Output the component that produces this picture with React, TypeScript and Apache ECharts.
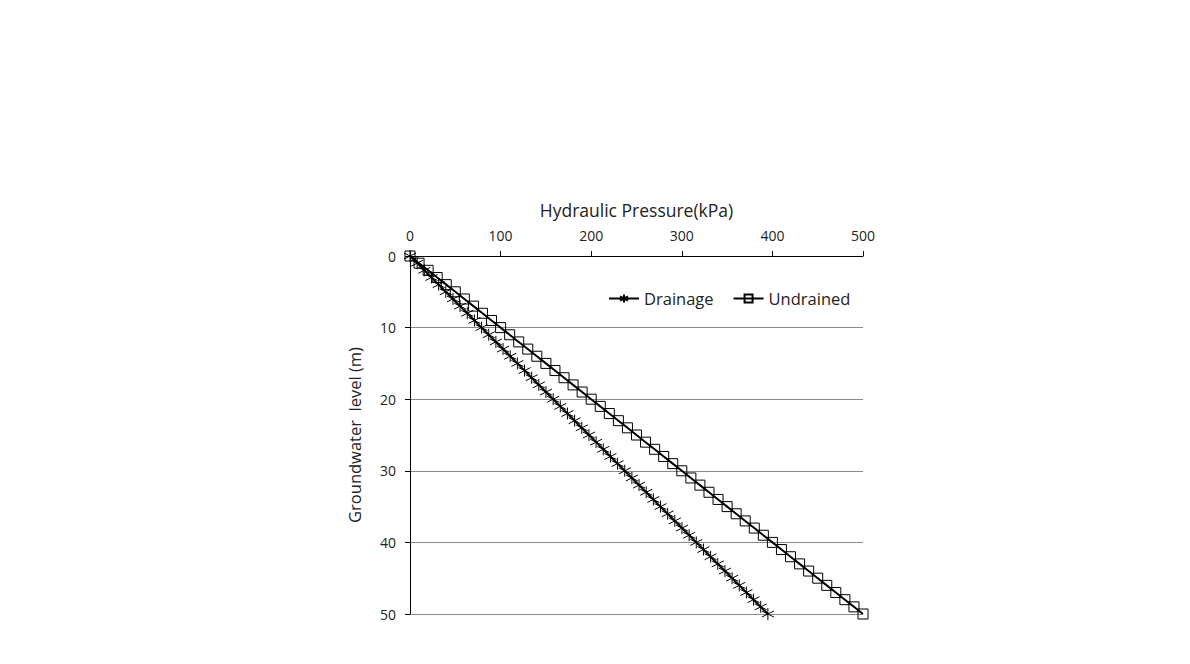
import React, { useEffect, useRef } from "react";
import * as echarts from "echarts";

const depth: number[] = [
  0, 1, 2, 3, 4, 5, 6, 7, 8, 9, 10, 11, 12, 13, 14, 15, 16, 17, 18, 19, 20,
  21, 22, 23, 24, 25, 26, 27, 28, 29, 30, 31, 32, 33, 34, 35, 36, 37, 38, 39, 40,
  41, 42, 43, 44, 45, 46, 47, 48, 49, 50,
];
const drainage: number[] = [
  0, 7.9, 15.8, 23.7, 31.6, 39.5, 47.4, 55.3, 63.2, 71.1, 79, 86.9, 94.8, 102.7,
  110.6, 118.5, 126.4, 134.3, 142.2, 150.1, 158, 165.9, 173.8, 181.7, 189.6,
  197.5, 205.4, 213.3, 221.2, 229.1, 237, 244.9, 252.8, 260.7, 268.6, 276.5,
  284.4, 292.3, 300.2, 308.1, 316, 323.9, 331.8, 339.7, 347.6, 355.5, 363.4,
  371.3, 379.2, 387.1, 395,
];
const undrained: number[] = [
  0, 10, 20, 30, 40, 50, 60, 70, 80, 90, 100, 110, 120, 130, 140, 150, 160, 170,
  180, 190, 200, 210, 220, 230, 240, 250, 260, 270, 280, 290, 300, 310, 320, 330,
  340, 350, 360, 370, 380, 390, 400, 410, 420, 430, 440, 450, 460, 470, 480, 490,
  500,
];

const starPath = "path://M5 0 L5 10 M0.7 2.5 L9.3 7.5 M0.7 7.5 L9.3 2.5";
const FONT = "'Open Sans', 'Noto Sans', sans-serif";

export default function App() {
  const ref = useRef<HTMLDivElement>(null);
  useEffect(() => {
    if (!ref.current) return;
    const chart = echarts.init(ref.current, null, { renderer: "svg" });
    chart.setOption({
      animation: false,
      backgroundColor: "#ffffff",
      textStyle: { fontFamily: FONT },
      grid: { left: 410, top: 256, right: 327, bottom: 50, containLabel: false },
      legend: {
        left: 608,
        top: 290,
        padding: 0,
        itemWidth: 30,
        itemHeight: 10,
        itemGap: 19,
        textStyle: { fontSize: 16.5, color: "#222", fontFamily: FONT },
        data: ["Drainage", "Undrained"],
      },
      xAxis: {
        type: "value",
        position: "top",
        min: 0,
        max: 500,
        interval: 100,
        name: "Hydraulic Pressure(kPa)",
        nameLocation: "middle",
        nameGap: 37,
        nameTextStyle: { fontSize: 17.5, color: "#222", fontFamily: FONT },
        axisLine: { show: true, lineStyle: { color: "#000", width: 1 } },
        axisTick: { show: true, inside: false, length: 5, lineStyle: { color: "#000" } },
        axisLabel: { fontSize: 14, color: "#222", margin: 14, fontFamily: FONT },
        splitLine: { show: false },
      },
      yAxis: {
        type: "value",
        inverse: true,
        min: 0,
        max: 50,
        interval: 10,
        name: "Groundwater  level (m)",
        nameLocation: "middle",
        nameGap: 47,
        nameRotate: 90,
        nameTextStyle: { fontSize: 16.5, color: "#222", fontFamily: FONT },
        axisLine: { show: true, lineStyle: { color: "#000", width: 1 } },
        axisTick: { show: true, inside: false, length: 5, lineStyle: { color: "#000" } },
        axisLabel: { fontSize: 14, color: "#222", margin: 14, fontFamily: FONT },
        splitLine: { show: true, lineStyle: { color: "#8a8a8a", width: 1 } },
      },
      series: [
        {
          name: "Drainage",
          type: "line",
          data: depth.map((d, i) => [drainage[i], d]),
          symbol: starPath,
          symbolSize: 12,
          showAllSymbol: true,
          lineStyle: { color: "#000", width: 2 },
          itemStyle: { color: "none", borderColor: "#000", borderWidth: 1 },
        },
        {
          name: "Undrained",
          type: "line",
          data: depth.map((d, i) => [undrained[i], d]),
          symbol: "rect",
          symbolSize: 10,
          showAllSymbol: true,
          lineStyle: { color: "#000", width: 2 },
          itemStyle: { color: "none", borderColor: "#000", borderWidth: 1 },
        },
      ],
    });
    return () => chart.dispose();
  }, []);
  return <div ref={ref} style={{ width: 1190, height: 664, position: "absolute", left: 0, top: 0 }} />;
}
